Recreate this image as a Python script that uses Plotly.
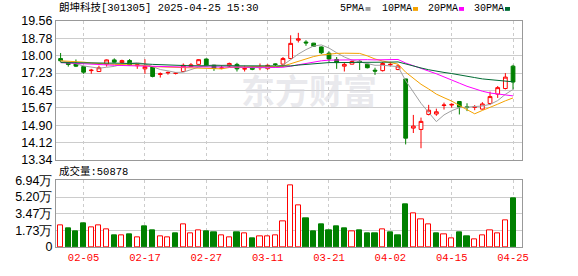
import plotly.graph_objects as go

# ---------------- data ----------------
dates = ["2025-01-23", "2025-01-24", "2025-01-27",
         "2025-02-05", "2025-02-06", "2025-02-07", "2025-02-10", "2025-02-11", "2025-02-12",
         "2025-02-13", "2025-02-14", "2025-02-17", "2025-02-18", "2025-02-19", "2025-02-20",
         "2025-02-21", "2025-02-24", "2025-02-25", "2025-02-26", "2025-02-27", "2025-02-28",
         "2025-03-03", "2025-03-04", "2025-03-05", "2025-03-06", "2025-03-07", "2025-03-10",
         "2025-03-11", "2025-03-12", "2025-03-13", "2025-03-14", "2025-03-17", "2025-03-18",
         "2025-03-19", "2025-03-20", "2025-03-21", "2025-03-24", "2025-03-25", "2025-03-26",
         "2025-03-27", "2025-03-28", "2025-03-31", "2025-04-01", "2025-04-02", "2025-04-03",
         "2025-04-07", "2025-04-08", "2025-04-09", "2025-04-10", "2025-04-11", "2025-04-14",
         "2025-04-15", "2025-04-16", "2025-04-17", "2025-04-18", "2025-04-21", "2025-04-22",
         "2025-04-23", "2025-04-24", "2025-04-25"]

opens = [17.88, 17.69, 17.66, 17.52, 17.34, 17.30, 17.63, 17.82, 17.70, 17.79,
         17.56, 17.42, 17.50, 17.17, 17.24, 17.22, 17.30, 17.52, 17.62, 17.86,
         17.59, 17.44, 17.55, 17.62, 17.41, 17.49, 17.47, 17.43, 17.64, 17.63,
         17.88, 18.70, 18.62, 18.57, 18.40, 18.12, 17.84, 17.54, 17.63, 17.76,
         17.63, 17.36, 17.34, 17.60, 17.39, 16.97, 14.77, 14.71, 15.38, 15.40,
         15.78, 15.80, 15.96, 15.72, 15.70, 15.62, 15.87, 16.29, 16.54, 17.54]
highs = [18.13, 17.72, 17.84, 17.54, 17.42, 17.56, 17.84, 17.89, 17.83, 17.86,
         17.62, 17.85, 17.54, 17.26, 17.30, 17.26, 17.66, 17.68, 17.85, 17.88,
         17.61, 17.58, 17.70, 17.69, 17.56, 17.52, 17.66, 17.62, 17.66, 17.95,
         18.92, 19.03, 18.70, 18.58, 18.42, 18.20, 17.95, 17.69, 17.79, 17.80,
         17.66, 17.47, 17.72, 17.74, 17.62, 16.97, 15.36, 15.24, 15.81, 15.64,
         15.91, 15.88, 15.96, 15.88, 15.80, 15.93, 16.40, 16.65, 17.23, 17.60]
lows = [17.73, 17.52, 17.50, 17.20, 17.20, 17.30, 17.52, 17.70, 17.66, 17.57,
        17.42, 17.20, 17.04, 17.03, 17.16, 17.17, 17.30, 17.50, 17.60, 17.54,
        17.33, 17.40, 17.50, 17.30, 17.30, 17.36, 17.36, 17.38, 17.55, 17.52,
        17.85, 18.60, 18.45, 18.41, 18.08, 17.73, 17.42, 17.30, 17.62, 17.37,
        17.44, 17.15, 17.30, 17.52, 17.36, 14.04, 14.55, 13.87, 15.34, 15.32,
        15.60, 15.68, 15.38, 15.53, 15.57, 15.60, 15.80, 16.12, 16.50, 16.51]
closes = [17.78, 17.62, 17.54, 17.27, 17.36, 17.47, 17.82, 17.72, 17.79, 17.59,
          17.60, 17.52, 17.08, 17.20, 17.26, 17.23, 17.58, 17.60, 17.83, 17.56,
          17.44, 17.46, 17.66, 17.42, 17.43, 17.40, 17.49, 17.58, 17.62, 17.88,
          18.56, 18.76, 18.58, 18.43, 18.14, 17.86, 17.70, 17.62, 17.75, 17.72,
          17.47, 17.32, 17.66, 17.62, 17.55, 14.32, 14.86, 15.07, 15.57, 15.50,
          15.80, 15.83, 15.71, 15.69, 15.72, 15.85, 16.18, 16.58, 17.05, 16.83]
prev_close = 17.70  # close of the session before the first shown day

volumes = [22100, 19100, 16100, 25100, 20100, 22100, 18100, 12100, 12100, 13100,
           10100, 21100, 17100, 11100, 10100, 14100, 24100, 14100, 17100, 16100,
           15100, 12100, 10100, 15100, 14100, 9100, 11100, 11100, 12100, 26200,
           64400, 43300, 30200, 16100, 23100, 17100, 21100, 19100, 16100, 17100,
           14100, 14100, 18100, 15100, 12100, 44300, 35200, 29200, 24100, 14100,
           13100, 9100, 15100, 11100, 8100, 12100, 17100, 14100, 28200, 50878]

ma5 = [17.78, 17.72, 17.65, 17.55, 17.51, 17.45, 17.49, 17.53, 17.63, 17.68,
       17.70, 17.64, 17.51, 17.39, 17.33, 17.26, 17.27, 17.37, 17.50, 17.56,
       17.60, 17.58, 17.59, 17.51, 17.48, 17.47, 17.48, 17.46, 17.50, 17.59,
       17.83, 18.08, 18.28, 18.44, 18.49, 18.35, 18.14, 17.95, 17.81, 17.73,
       17.65, 17.58, 17.58, 17.56, 17.52, 16.89, 16.40, 15.88, 15.47, 15.06,
       15.36, 15.55, 15.68, 15.71, 15.75, 15.76, 15.83, 16.00, 16.28, 16.50]
ma10 = [17.78, 17.77, 17.75, 17.72, 17.68, 17.65, 17.63, 17.62, 17.61, 17.60,
        17.58, 17.57, 17.52, 17.51, 17.50, 17.48, 17.46, 17.44, 17.45, 17.44,
        17.43, 17.42, 17.48, 17.50, 17.52, 17.54, 17.53, 17.53, 17.51, 17.54,
        17.65, 17.78, 17.87, 17.97, 18.04, 18.09, 18.11, 18.12, 18.13, 18.11,
        18.00, 17.86, 17.77, 17.69, 17.63, 17.27, 16.99, 16.73, 16.52, 16.29,
        16.13, 15.98, 15.78, 15.59, 15.41, 15.56, 15.69, 15.84, 15.99, 16.12]
ma20 = [17.70, 17.68, 17.66, 17.63, 17.61, 17.60, 17.59, 17.58, 17.57, 17.56,
        17.55, 17.54, 17.52, 17.51, 17.50, 17.50, 17.50, 17.51, 17.51, 17.52,
        17.50, 17.50, 17.50, 17.51, 17.51, 17.51, 17.49, 17.49, 17.48, 17.49,
        17.54, 17.60, 17.68, 17.74, 17.78, 17.81, 17.82, 17.82, 17.82, 17.83,
        17.83, 17.82, 17.82, 17.83, 17.84, 17.68, 17.55, 17.42, 17.32, 17.20,
        17.07, 16.92, 16.78, 16.64, 16.52, 16.42, 16.34, 16.29, 16.25, 16.21]
ma30 = [17.70, 17.70, 17.69, 17.69, 17.68, 17.68, 17.67, 17.67, 17.67, 17.66,
        17.66, 17.64, 17.62, 17.60, 17.59, 17.58, 17.57, 17.56, 17.56, 17.56,
        17.55, 17.55, 17.55, 17.55, 17.54, 17.54, 17.54, 17.53, 17.53, 17.53,
        17.55, 17.59, 17.62, 17.66, 17.69, 17.70, 17.70, 17.70, 17.69, 17.70,
        17.69, 17.69, 17.71, 17.72, 17.73, 17.63, 17.54, 17.46, 17.38, 17.31,
        17.26, 17.21, 17.14, 17.08, 17.03, 16.97, 16.93, 16.90, 16.88, 16.84]

ma_names = ["5PMA", "10PMA", "20PMA", "30PMA"]
price_ticks = [13.34, 14.12, 14.90, 15.67, 16.45, 17.23, 18.00, 18.78, 19.56]
vol_ticks = [0, 17350, 34700, 52050, 69400]
vol_tick_text = ["0", "1.73万", "3.47万", "5.20万", "6.94万"]
x_tick_dates = ["2025-02-05", "2025-02-17", "2025-02-27", "2025-03-11",
                "2025-03-21", "2025-04-02", "2025-04-15", "2025-04-25"]
title_text = "朗坤科技[301305] 2025-04-25 15:30"
vol_label = "成交量:50878"

# ---------------- styling / layout ----------------
W, H = 578, 276
L, R, T, B = 56, 56, 21, 21
PLOT_W = W - L - R
PLOT_H = H - T - B
RED = "#ff0000"
GREEN = "#008000"
ma_colors = ["#a0a0a0", "#f5a200", "#ff00ff", "#006b33"]
MONO = "Liberation Mono, Noto Sans CJK SC, monospace"
SANS = "Liberation Sans, Arial, sans-serif"


def px(xp):
    return (xp - L) / PLOT_W


def py(yp):
    return (H - B - yp) / PLOT_H


n = len(dates)
x = list(range(n))
tickvals = [dates.index(d) for d in x_tick_dates]
ticktext = [d[5:] for d in x_tick_dates]

prevs = [prev_close] + closes[:-1]
vol_up = [c >= p for c, p in zip(closes, prevs)]
vol_line = [RED if u else GREEN for u in vol_up]
vol_fill = ["white" if u else GREEN for u in vol_up]

fig = go.Figure()

for vals, name, col in zip([ma5, ma10, ma20, ma30], ma_names, ma_colors):
    fig.add_trace(go.Scatter(x=x, y=vals, mode="lines", name=name,
                             line=dict(color=col, width=1), hoverinfo="skip",
                             xaxis="x", yaxis="y"))

fig.add_trace(go.Candlestick(
    x=x, open=opens, high=highs, low=lows, close=closes,
    increasing=dict(line=dict(color=RED, width=1), fillcolor="white"),
    decreasing=dict(line=dict(color=GREEN, width=1), fillcolor=GREEN),
    whiskerwidth=0, xaxis="x", yaxis="y", hoverinfo="skip"))

fig.add_trace(go.Bar(x=x, y=volumes, width=0.66,
                     marker=dict(color=vol_fill, line=dict(color=vol_line, width=1)),
                     xaxis="x2", yaxis="y2", hoverinfo="skip"))

price_dom = [py(165), 1.0]
vol_dom = [0.0, py(186)]
xr = [-0.6, n - 1 + 1.17]

axis_common = dict(showline=True, linecolor="#999999", linewidth=1, mirror=True,
                   zeroline=False)

fig.update_layout(
    width=W, height=H, margin=dict(l=L, r=R, t=T, b=B),
    paper_bgcolor="white", plot_bgcolor="white", showlegend=False,
    bargap=0,
    xaxis=dict(domain=[0, 1], range=xr, anchor="y", tickvals=tickvals,
               showticklabels=False, showgrid=True, gridcolor="#cccccc",
               griddash="3px,3px", gridwidth=1, ticks="",
               rangeslider=dict(visible=False), **axis_common),
    yaxis=dict(domain=price_dom, range=[price_ticks[0], price_ticks[-1]],
               tickvals=price_ticks, ticktext=["%.2f" % v for v in price_ticks],
               showgrid=True, gridcolor="#cccccc", gridwidth=1, ticks="",
               tickfont=dict(family=SANS, size=12.5, color="#000000"),
               anchor="x", **axis_common),
    xaxis2=dict(domain=[0, 1], range=xr, anchor="y2", matches="x",
                tickvals=tickvals, ticktext=ticktext, showgrid=True,
                gridcolor="#cccccc", griddash="3px,3px", gridwidth=1, ticks="",
                tickfont=dict(family=MONO, size=10.5, color=RED), **axis_common),
    yaxis2=dict(domain=vol_dom, range=[vol_ticks[0], vol_ticks[-1]],
                tickvals=vol_ticks, ticktext=vol_tick_text,
                showgrid=True, gridcolor="#cccccc", gridwidth=1, ticks="",
                tickfont=dict(family=SANS, size=12.5, color="#000000"),
                anchor="x2", **axis_common),
)

annotations = [
    dict(text=title_text, x=px(57), y=py(7), xanchor="left", yanchor="middle",
         font=dict(family=MONO, size=10.5, color="#000000")),
    dict(text=vol_label, x=px(57), y=py(177), xanchor="left", yanchor="middle",
         font=dict(family=MONO, size=10.5, color="#000000")),
    dict(text="<b>东方财富</b>", x=px(309), y=py(92), xanchor="center", yanchor="middle",
         font=dict(family="Noto Sans CJK SC", size=34, color="rgba(215,215,222,0.55)")),
]
shapes = []
leg_text_x = [338, 380, 425.7, 471.7]
leg_sq_x = [365.5, 413, 459, 505]
for name, col, tx, sx in zip(ma_names, ma_colors, leg_text_x, leg_sq_x):
    annotations.append(dict(text=name, x=px(tx), y=py(8), xanchor="left", yanchor="middle",
                            font=dict(family=MONO, size=10, color="#000000")))
    shapes.append(dict(type="rect", xref="paper", yref="paper",
                       x0=px(sx), x1=px(sx + 5), y0=py(10.5), y1=py(6.5),
                       fillcolor=col, line=dict(width=0)))

for a in annotations:
    a.update(xref="paper", yref="paper", showarrow=False)

fig.update_layout(annotations=annotations, shapes=shapes)

fig.write_html("out.html")
